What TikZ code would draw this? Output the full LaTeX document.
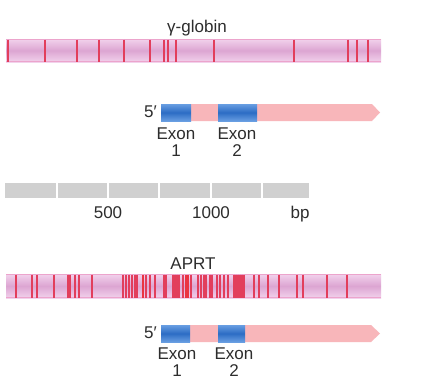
\documentclass[tikz,border=0pt]{standalone}
\usepackage{fontspec}
\setmainfont{Liberation Sans}
\begin{document}
\begin{tikzpicture}[x=1pt,y=-1pt,
  lbl/.style={inner sep=0pt,anchor=base,text=txtgray,font=\fontsize{17}{17}\selectfont},
  exonlbl/.style={inner sep=0pt,anchor=north,align=center,text=txtgray,font=\fontsize{17}{17}\selectfont},
  cut/.style={draw=cutred,line width=1.05pt},
  barfill/.style={top color=barlight,bottom color=barlight,middle color=barmid},
  exonfill/.style={top color=exlight,bottom color=exlight,middle color=exdark}]
\definecolor{txtgray}{RGB}{45,45,45}
\definecolor{cutred}{RGB}{226,62,92}
\definecolor{cutbright}{RGB}{234,52,66}
\definecolor{barlight}{RGB}{242,210,236}
\definecolor{barmid}{RGB}{220,165,210}
\definecolor{baredge}{RGB}{236,164,204}
\definecolor{genepink}{RGB}{248,182,186}
\definecolor{exlight}{RGB}{104,158,226}
\definecolor{exdark}{RGB}{44,108,196}
\definecolor{scalegray}{RGB}{208,208,208}
\useasboundingbox (0,0) rectangle (427,389);
\fill[white] (0,0) rectangle (427,389);

% ---------- gamma-globin restriction map ----------
\node[lbl] (glab) at (197,32) {γ-globin};
\fill[barfill] (6,39) rectangle (381,62);
\draw[baredge,line width=0.8pt] (6,39.4) -- (381,39.4) (6,61.6) -- (381,61.6);
\foreach \x in {8,45,77,99,124,150,164,168,176,214,294,348,357,368}
  \draw[cut] (\x,39.5) -- (\x,61.5);

% ---------- gamma-globin gene ----------
\node[lbl,anchor=base east] (g5) at (157,117) {5\symbol{"2032}};
\fill[genepink] (161,104) -- (372,104) -- (380,112.5) -- (372,121) -- (161,121) -- cycle;
\fill[exonfill] (161,104) rectangle (191,121);
\fill[exonfill] (218,104) rectangle (257,121);
\node[exonlbl] (ge1) at (176,128) {Exon\\1};
\node[exonlbl] (ge2) at (237,128) {Exon\\2};

% ---------- scale bar ----------
\foreach \a/\b in {5/56.2,57.8/107.2,108.8/158.2,159.8/210.2,211.8/261.2,262.8/309}
  \fill[scalegray] (\a,183) rectangle (\b,198);
\node[lbl] (s500) at (108,218) {500};
\node[lbl] (s1000) at (211,218) {1000};
\node[lbl] (sbp) at (300,218) {bp};

% ---------- APRT restriction map ----------
\node[lbl] (alab) at (193,269) {APRT};
\fill[barfill] (6,274) rectangle (381,298);
\draw[baredge,line width=0.8pt] (6,274.4) -- (381,274.4) (6,297.6) -- (381,297.6);
\foreach \x in {16,32,37,54,68,70,75,79,92,123,126,129,132,135,137,146,150,155,164,166,173,175,177,179,183,191,198,201,204,206,210,212,217,220,224,228,234,236,238,240,242,244,254,259,268,279,297,303,327,347}
  \draw[cut] (\x,274.5) -- (\x,297.5);
\draw[draw=cutbright,line width=2.5pt] (143,274.5) -- (143,297.5);
\draw[draw=cutbright,line width=4pt] (187,274.5) -- (187,297.5);

% ---------- APRT gene ----------
\node[lbl,anchor=base east] (a5) at (157,338) {5\symbol{"2032}};
\fill[genepink] (161,325) -- (371,325) -- (380,333.5) -- (371,342) -- (161,342) -- cycle;
\fill[exonfill] (161,325) rectangle (190,342);
\fill[exonfill] (218,325) rectangle (245,342);
\node[exonlbl] (ae1) at (177,348) {Exon\\1};
\node[exonlbl] (ae2) at (234,348) {Exon\\2};
\end{tikzpicture}
\end{document}
